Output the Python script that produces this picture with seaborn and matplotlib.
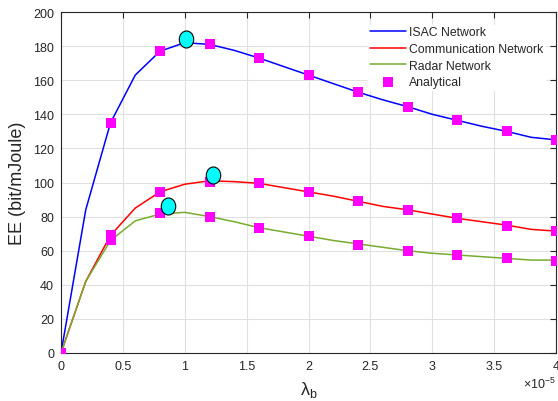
import numpy as np
import pandas as pd
import matplotlib
matplotlib.use("Agg")
import matplotlib.pyplot as plt
from matplotlib.path import Path
from matplotlib.transforms import Affine2D
import seaborn as sns

# data (x in units of 1e-5)
x_line = [0, 0.2, 0.4, 0.6, 0.8, 1.0, 1.2, 1.4, 1.6, 1.8, 2.0, 2.2, 2.4, 2.6, 2.8, 3.0, 3.2, 3.4, 3.6, 3.8, 4.0]
isac = [0, 84, 135, 163, 177, 182, 181, 177.5, 173, 168, 163, 158, 153, 148.5, 144.5, 140, 136.5, 133, 130, 126.5, 125]
comm = [0, 42, 69, 85, 94.5, 99, 101, 100.5, 99.5, 97, 94.5, 92, 89, 86, 84, 81.5, 79, 77, 75, 72.5, 71.5]
radar = [0, 42, 66, 77.5, 81.5, 82.5, 80, 77, 73.5, 71, 68.5, 66, 64, 62, 60, 58.5, 57.5, 56.5, 55.5, 54.5, 54.5]

x_ana = [0, 0.4, 0.8, 1.2, 1.6, 2.0, 2.4, 2.8, 3.2, 3.6, 4.0]
isac_ana = [0, 135, 177, 181, 173, 163, 153, 144.5, 136.5, 130, 125]
comm_ana = [0, 69, 94.5, 100.5, 99.5, 94.5, 89, 84, 79, 74.5, 71.5]
radar_ana = [0, 66, 82, 80, 73.5, 68.5, 63.5, 60, 57.5, 55.5, 54]

opt_x = [1.01, 1.23, 0.865]
opt_y = [184, 104.5, 86]

series_names = ["ISAC Network", "Communication Network", "Radar Network"]
colors = ["#0000ff", "#ff0000", "#77ac30"]

sns.set_style("white")
plt.rcParams['font.family'] = ['Liberation Sans', 'DejaVu Sans']
plt.rcParams['mathtext.fontset'] = 'custom'
plt.rcParams['mathtext.rm'] = 'Liberation Sans'
plt.rcParams['mathtext.it'] = 'Liberation Sans'

fig = plt.figure(figsize=(5.58, 4.02), dpi=100)
ax = fig.add_axes([61/558, 48/402, 495/558, 341/402])

df = pd.DataFrame({
    "x": x_line * 3,
    "y": isac + comm + radar,
    "series": sum([[n] * len(x_line) for n in series_names], []),
})
sns.lineplot(data=df, x="x", y="y", hue="series", palette=dict(zip(series_names, colors)),
             linewidth=1.1, ax=ax, zorder=3)

dfa = pd.DataFrame({"x": x_ana * 3, "y": isac_ana + comm_ana + radar_ana})
sns.scatterplot(data=dfa, x="x", y="y", marker="s", s=42, color="#ff00ff",
                edgecolor="#ff00ff", linewidth=0, ax=ax, zorder=4, label="Analytical")

ellipse = Path.unit_circle().transformed(Affine2D().scale(0.85, 1.0))
sns.scatterplot(x=opt_x, y=opt_y, marker=ellipse, s=150, color="#00ffff",
                edgecolor="black", linewidth=0.8, ax=ax, zorder=5)

ax.set_xlim(0, 4)
ax.set_ylim(0, 200)
ax.set_xticks(np.arange(0, 4.01, 0.5))
ax.set_xticklabels(["0", "0.5", "1", "1.5", "2", "2.5", "3", "3.5", "4"])
ax.set_yticks(np.arange(0, 201, 20))
ax.grid(True, color="#e0e0e0", linewidth=0.8)
ax.set_axisbelow(True)
for s in ax.spines.values():
    s.set_color("#262626")
    s.set_linewidth(0.8)
ax.tick_params(direction="in", length=4, width=0.8, colors="#262626", labelsize=9,
               top=True, right=True, labelcolor="#262626", pad=5)
ax.set_xlabel("λ$_{\\mathrm{b}}$", fontsize=13, color="#262626", labelpad=5)
ax.set_ylabel("EE (bit/mJoule)", fontsize=13, color="#262626", labelpad=5)
ax.text(1.0, -0.068, "×10$^{-5}$", transform=ax.transAxes, ha="right", va="top",
        fontsize=9, color="#262626")

handles, labels = ax.get_legend_handles_labels()
leg = ax.legend(handles[:4], labels[:4], loc="upper right", bbox_to_anchor=(0.978, 0.962),
                frameon=True, fontsize=8.8, handlelength=3.0, handletextpad=0.25,
                labelspacing=0.38, borderaxespad=0.0, borderpad=0.12)
leg.get_frame().set_edgecolor("white")
leg.get_frame().set_facecolor("white")
leg.get_frame().set_alpha(1)

fig.savefig("out.png", dpi=100)
